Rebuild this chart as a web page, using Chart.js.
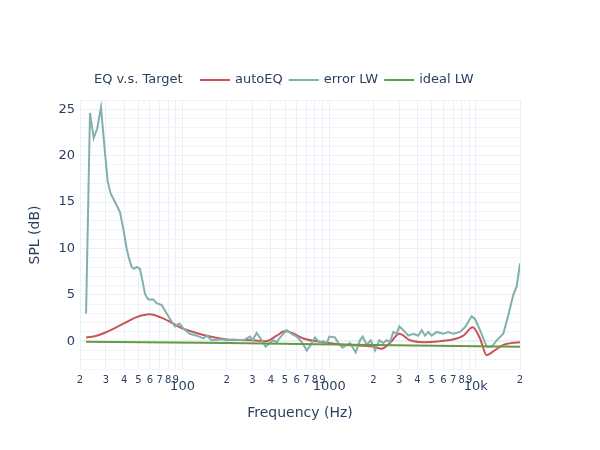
<!DOCTYPE html>
<html>
<head>
<meta charset="utf-8">
<title>EQ v.s. Target</title>
<script src="https://cdn.jsdelivr.net/npm/chart.js@4"></script>
<style>
  html, body { margin: 0; padding: 0; background: #fff; }
</style>
</head>
<body>
<canvas id="eqChart" width="600" height="450"></canvas>
<script>
// data (Hz / dB)
const autoEqFreq = [22, 26, 30.4, 37.5, 48.7, 60, 70.2, 82.2, 96.1, 118.5,
  154, 200, 302, 369, 439, 500, 558, 666, 912, 1317,
  2000, 2281, 2598, 3007, 3557, 4383, 5696, 7402, 8215, 9516,
  10672, 11857, 13150, 15386, 20000];
const autoEqSpl = [0.4, 0.6, 1.0, 1.7, 2.6, 2.9, 2.6, 2.1, 1.5, 1.0,
  0.5, 0.2, 0.1, 0.0, 0.6, 1.1, 0.9, 0.3, -0.1, -0.4,
  -0.6, -0.8, -0.2, 0.8, 0.1, -0.1, 0, 0.3, 0.6, 1.5,
  0.3, -1.5, -1.1, -0.4, -0.1];

const errorFreq = [22, 23.4, 24.8, 26.2, 27.8, 29.3, 30.9, 32.4, 34.7, 37.5,
  39.5, 41.6, 43.2, 45, 46.7, 48.7, 51.3, 53.5, 55.5, 58.4,
  63.2, 66.7, 72.1, 78, 84.4, 88.9, 95.1, 101, 112, 125,
  139, 146, 158, 180, 200, 222, 260, 288, 301, 320,
  347, 369, 395, 416, 439, 462, 513, 555, 601, 650,
  703, 748, 800, 856, 912, 962, 1002, 1096, 1154, 1236,
  1317, 1387, 1517, 1622, 1693, 1802, 1919, 2053, 2196, 2339,
  2467, 2598, 2737, 2886, 3007, 3202, 3463, 3745, 4051, 4274,
  4503, 4743, 5001, 5408, 5998, 6488, 7019, 7798, 8433, 9367,
  9866, 10672, 11857, 12823, 13869, 15386, 16644, 18002, 18990, 20000];
const errorSpl = [3.0, 24.6, 21.9, 22.9, 25.2, 21.1, 17.2, 15.9, 15.0, 13.9,
  12.1, 10.0, 8.9, 8.0, 7.8, 8.0, 7.8, 6.4, 5.1, 4.5,
  4.5, 4.1, 3.9, 3.0, 2.1, 1.6, 1.9, 1.4, 0.8, 0.6,
  0.3, 0.6, 0.1, 0.2, 0.1, 0.2, 0.1, 0.5, 0.1, 0.9,
  0.1, -0.6, -0.2, 0.1, -0.1, 0.4, 1.2, 0.8, 0.5, -0.1,
  -1.0, -0.4, 0.4, -0.1, 0, -0.2, 0.5, 0.4, -0.2, -0.7,
  -0.4, -0.2, -1.2, 0.1, 0.5, -0.4, 0.1, -1.0, 0.1, -0.2,
  0.1, -0.1, 1.0, 0.8, 1.6, 1.2, 0.6, 0.8, 0.6, 1.2,
  0.6, 1.0, 0.6, 1.0, 0.8, 1.0, 0.8, 1.0, 1.5, 2.7,
  2.4, 1.2, -0.6, -0.6, 0.1, 0.8, 2.8, 5.0, 5.9, 8.4];

const idealFreq = [22, 200, 2000, 20000];
const idealSpl = [-0.05, -0.2, -0.4, -0.6];

// axis ticks
const xTicks = [20, 30, 40, 50, 60, 70, 80, 90,
  100, 200, 300, 400, 500, 600, 700, 800, 900,
  1000, 2000, 3000, 4000, 5000, 6000, 7000, 8000, 9000,
  10000, 20000];
const xTickLabels = ["2", "3", "4", "5", "6", "7", "8", "9",
  "100", "2", "3", "4", "5", "6", "7", "8", "9",
  "1000", "2", "3", "4", "5", "6", "7", "8", "9",
  "10k", "2"];
const xMajor = [100, 1000, 10000];
const yTickLabels = [0, 5, 10, 15, 20, 25];

const FONT = "'DejaVu Sans', Verdana, sans-serif";
const TEXT = "#2a3f5f";
const GRID = "#ebf0f8";
const GRID_MINOR = "#f1f4fa";

function toPoints(xs, ys) {
  return xs.map((x, i) => ({ x: x, y: ys[i] }));
}

// plotly-ish horizontal legend with a title on the left
const topLegend = {
  id: "topLegend",
  afterDraw(chart) {
    const ctx = chart.ctx;
    const y = 80;
    ctx.save();
    ctx.font = "13px " + FONT;
    ctx.fillStyle = TEXT;
    ctx.textBaseline = "middle";
    ctx.fillText("EQ v.s. Target", 94, y);
    let x = 200;
    chart.data.datasets.forEach(ds => {
      ctx.strokeStyle = ds.borderColor;
      ctx.lineWidth = 2;
      ctx.beginPath();
      ctx.moveTo(x, y);
      ctx.lineTo(x + 30, y);
      ctx.stroke();
      ctx.fillStyle = TEXT;
      ctx.fillText(ds.label, x + 35, y);
      x += 35 + ctx.measureText(ds.label).width + 6;
    });
    ctx.restore();
  }
};

const ctx = document.getElementById("eqChart").getContext("2d");
new Chart(ctx, {
  type: "line",
  data: {
    datasets: [
      {
        label: "autoEQ",
        data: toPoints(autoEqFreq, autoEqSpl),
        borderColor: "#c8545a",
        borderWidth: 2,
        pointRadius: 0,
        cubicInterpolationMode: "monotone",
        order: 2
      },
      {
        label: "error LW",
        data: toPoints(errorFreq, errorSpl),
        borderColor: "#82b0ac",
        borderWidth: 2,
        pointRadius: 0,
        tension: 0,
        order: 1
      },
      {
        label: "ideal LW",
        data: toPoints(idealFreq, idealSpl),
        borderColor: "#649a42",
        borderWidth: 2,
        pointRadius: 0,
        tension: 0,
        order: 0
      }
    ]
  },
  options: {
    responsive: false,
    animation: false,
    layout: { padding: { top: 100, right: 80, bottom: 0, left: 0 } },
    plugins: {
      legend: { display: false },
      tooltip: { enabled: false }
    },
    scales: {
      x: {
        type: "logarithmic",
        min: 20,
        max: 20000,
        border: { display: false },
        grid: { color: GRID, drawTicks: false },
        afterBuildTicks: axis => {
          axis.ticks = xTicks.map(v => ({ value: v }));
        },
        afterFit: axis => { axis.height = 80; },
        ticks: {
          autoSkip: false,
          maxRotation: 0,
          padding: 5,
          color: TEXT,
          callback: (value, index) => xTickLabels[index],
          font: c => xMajor.includes(c.tick && c.tick.value)
            ? { family: FONT, size: 13, lineHeight: 1.8 }
            : { family: FONT, size: 10, lineHeight: 1.14 }
        },
        title: {
          display: true,
          text: "Frequency (Hz)",
          color: TEXT,
          font: { family: FONT, size: 14 },
          padding: { top: 0, bottom: 28 }
        }
      },
      y: {
        min: -3.1,
        max: 26,
        border: { display: false },
        afterBuildTicks: axis => {
          const t = [];
          for (let v = -3; v <= 26; v++) t.push({ value: v });
          axis.ticks = t;
        },
        afterFit: axis => { axis.width = 80; },
        grid: {
          drawTicks: false,
          color: c => (c.tick.value % 5 === 0 ? GRID : GRID_MINOR),
          lineWidth: c => (c.tick.value === 0 ? 2 : 1)
        },
        ticks: {
          autoSkip: false,
          padding: 5,
          color: TEXT,
          font: { family: FONT, size: 13 },
          callback: value => (yTickLabels.includes(value) ? String(value) : "")
        },
        title: {
          display: true,
          text: "SPL (dB)",
          color: TEXT,
          font: { family: FONT, size: 14 },
          padding: { top: 27, bottom: 0 }
        }
      }
    }
  },
  plugins: [topLegend]
});
</script>
</body>
</html>
